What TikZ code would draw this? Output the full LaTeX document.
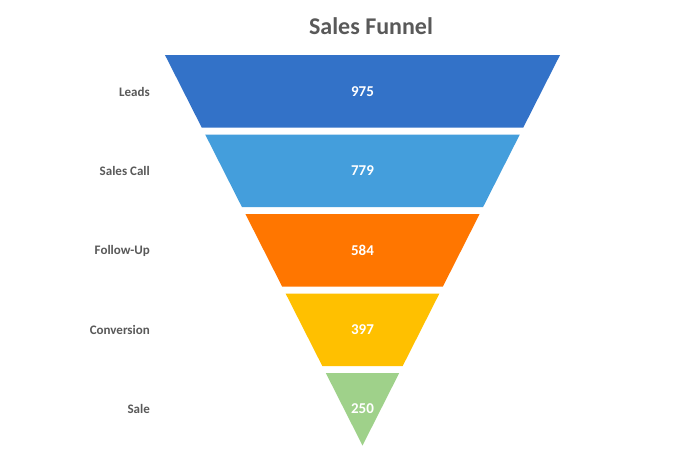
\documentclass[tikz,border=0pt]{standalone}
\usepackage{fontspec}
\setmainfont{Carlito}
\definecolor{cBlue}{HTML}{3372C8}
\definecolor{cSky}{HTML}{449EDC}
\definecolor{cOrange}{HTML}{FF7600}
\definecolor{cYellow}{HTML}{FFC000}
\definecolor{cGreen}{HTML}{9FD18A}
\definecolor{cText}{HTML}{595959}
\tikzset{
  band/.style={draw=none},
  stagelabel/.style={anchor=east, inner sep=0pt, text=cText, font=\bfseries\fontsize{13}{15}\selectfont},
  value/.style={inner sep=0pt, text=white, font=\bfseries\fontsize{15}{17}\selectfont},
  title/.style={inner sep=0pt, text=cText, font=\bfseries\fontsize{24}{28}\selectfont}
}
\begin{document}
\begin{tikzpicture}[x=1pt,y=-1pt]
\useasboundingbox (0,0) rectangle (700,466);
\fill[white] (0,0) rectangle (700,466);
% bands
\fill[band, cBlue]   (164.98,55) -- (560.02,55) -- (523.3,127.5) -- (201.7,127.5) -- cycle;
\fill[band, cSky]    (205.2,134.5) -- (519.8,134.5) -- (483.1,207) -- (241.9,207) -- cycle;
\fill[band, cOrange] (245.4,214) -- (479.6,214) -- (442.9,286.5) -- (282.1,286.5) -- cycle;
\fill[band, cYellow] (285.6,293.5) -- (439.4,293.5) -- (402.7,366) -- (322.3,366) -- cycle;
\fill[band, cGreen]  (325.8,373) -- (399.2,373) -- (362.5,445.5) -- cycle;
% title
\node[title] (title) at (371,26) {Sales Funnel};
% values
\node[value] (v1) at (362.5,91.5) {975};
\node[value] (v2) at (362.5,171) {779};
\node[value] (v3) at (362.5,250.5) {584};
\node[value] (v4) at (362.5,330) {397};
\node[value] (v5) at (362.5,409) {250};
% labels
\node[stagelabel] (l1) at (150,91.5) {Leads};
\node[stagelabel] (l2) at (150,171) {Sales Call};
\node[stagelabel] (l3) at (150,250.5) {Follow-Up};
\node[stagelabel] (l4) at (150,330) {Conversion};
\node[stagelabel] (l5) at (150,409) {Sale};
\end{tikzpicture}
\end{document}
